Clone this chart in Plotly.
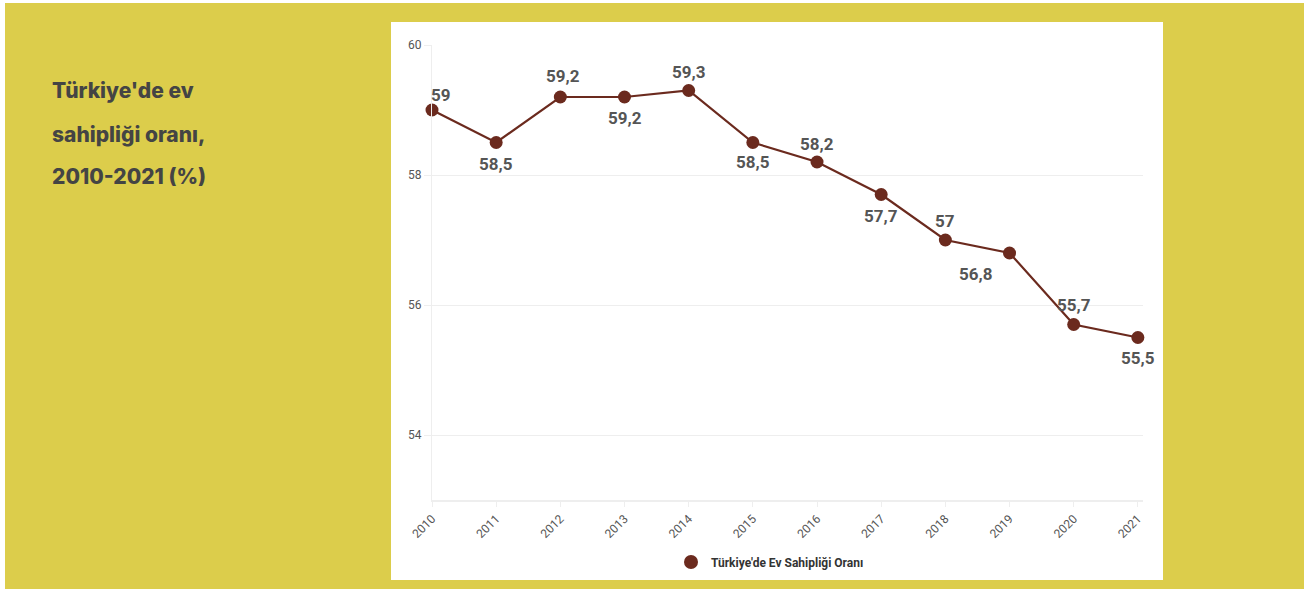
import plotly.graph_objects as go

# Home-ownership rate in Türkiye, 2010-2021 (%)
years = [2010, 2011, 2012, 2013, 2014, 2015, 2016, 2017, 2018, 2019, 2020, 2021]
rates = [59, 58.5, 59.2, 59.2, 59.3, 58.5, 58.2, 57.7, 57, 56.8, 55.7, 55.5]
y_ticks = [54, 56, 58, 60]
series_name = "Türkiye'de Ev Sahipliği Oranı"
title_lines = ["Türkiye'de ev", "sahipliği oranı,", "2010-2021 (%)"]

# label offsets (pixels) around each point
label_offsets = [(9, 15), (0, -21), (3, 21), (0, -21), (0, 19), (0, -19),
                 (0, 18), (0, -21), (0, 19), (-34, -21), (0, 20), (0, -20)]

W, H = 1307, 589
PL, PR, PT, PB = 432, 1143, 45, 500
YELLOW = "#DCCD4B"
MAROON = "#6B2A1E"
TXT = "#555555"


def px_x(px):
    return (px - PL) / (PR - PL)


def px_y(py):
    return (PB - py) / (PB - PT)


def fmt(v):
    s = f"{v:g}"
    return s.replace(".", ",")


fig = go.Figure()
fig.add_trace(go.Scatter(
    x=years, y=rates, mode="lines+markers",
    line=dict(color=MAROON, width=2.2),
    marker=dict(color=MAROON, size=13),
    showlegend=False, hoverinfo="x+y", cliponaxis=False,
))
# legend entry drawn as a single dot
fig.add_trace(go.Scatter(
    x=[None], y=[None], mode="markers", name=f"<b>{series_name}</b>",
    marker=dict(color=MAROON, size=14),
))

annotations = []
for x, v, (dx, dy) in zip(years, rates, label_offsets):
    annotations.append(dict(
        x=x, y=v, xref="x", yref="y", text=f"<b>{fmt(v)}</b>",
        showarrow=False, xshift=dx, yshift=dy,
        font=dict(family="Roboto", size=17, color=TXT),
    ))

for i, line in enumerate(title_lines):
    annotations.append(dict(
        x=px_x(50), y=px_y(91 + 43 * i), xref="paper", yref="paper",
        xanchor="left", yanchor="middle", showarrow=False,
        text=line,
        font=dict(family="Inter", size=21, color="#444444", weight=800),
    ))

shapes = [
    dict(type="rect", xref="paper", yref="paper", layer="below",
         x0=px_x(5), x1=px_x(1304), y0=px_y(3), y1=px_y(589),
         fillcolor=YELLOW, line=dict(width=0)),
    dict(type="rect", xref="paper", yref="paper", layer="below",
         x0=px_x(391), x1=px_x(1163), y0=px_y(22), y1=px_y(580),
         fillcolor="white", line=dict(width=0)),
]

fig.update_layout(
    width=W, height=H,
    margin=dict(l=PL, r=W - PR, t=PT, b=H - PB, pad=0),
    paper_bgcolor="white", plot_bgcolor="rgba(0,0,0,0)",
    font=dict(family="Roboto", color=TXT),
    annotations=annotations, shapes=shapes,
    legend=dict(orientation="h", x=px_x(770), xanchor="center",
                y=px_y(562), yanchor="middle", itemwidth=30,
                font=dict(family="Roboto", size=12, color="#333333"),
                bgcolor="rgba(0,0,0,0)"),
    xaxis=dict(
        range=[2010, 2021.08], tickvals=years,
        ticktext=[str(y) for y in years], tickangle=-45,
        showgrid=False, zeroline=False,
        showline=True, linecolor="#eeeeee", linewidth=2,
        ticks="outside", ticklen=5, tickcolor="#eeeeee",
        tickfont=dict(family="Roboto", size=12, color=TXT),
    ),
    yaxis=dict(
        range=[53, 60], tickvals=y_ticks, ticktext=[str(t) for t in y_ticks],
        showgrid=True, gridcolor="#eeeeee", gridwidth=1, zeroline=False,
        showline=True, linecolor="#eeeeee", linewidth=1,
        ticks="outside", ticklen=7, tickcolor="#eeeeee",
        tickfont=dict(family="Roboto", size=12, color=TXT),
    ),
)

fig.write_html("out.html")
